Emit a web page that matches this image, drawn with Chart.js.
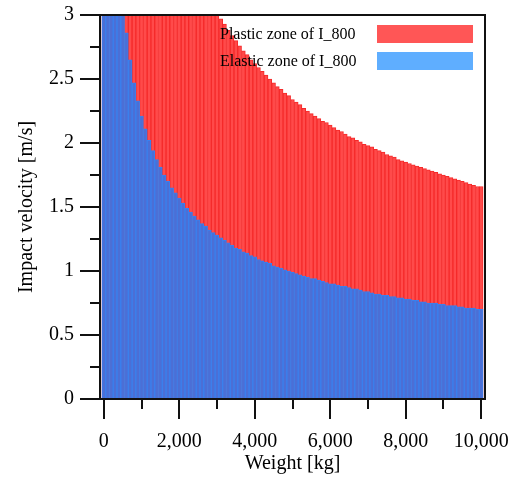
<!DOCTYPE html>
<html>
<head>
<meta charset="utf-8">
<script src="https://cdn.jsdelivr.net/npm/chart.js@4/dist/chart.umd.min.js"></script>
<style>
html, body { margin: 0; padding: 0; background: #fff; }
</style>
</head>
<body>
<canvas id="myChart" width="518" height="477"></canvas>
<script>
// weight of each bar [kg]
var weights = [
    0, 100, 200, 300, 400, 500, 600, 700, 800, 900,
    1000, 1100, 1200, 1300, 1400, 1500, 1600, 1700, 1800, 1900,
    2000, 2100, 2200, 2300, 2400, 2500, 2600, 2700, 2800, 2900,
    3000, 3100, 3200, 3300, 3400, 3500, 3600, 3700, 3800, 3900,
    4000, 4100, 4200, 4300, 4400, 4500, 4600, 4700, 4800, 4900,
    5000, 5100, 5200, 5300, 5400, 5500, 5600, 5700, 5800, 5900,
    6000, 6100, 6200, 6300, 6400, 6500, 6600, 6700, 6800, 6900,
    7000, 7100, 7200, 7300, 7400, 7500, 7600, 7700, 7800, 7900,
    8000, 8100, 8200, 8300, 8400, 8500, 8600, 8700, 8800, 8900,
    9000, 9100, 9200, 9300, 9400, 9500, 9600, 9700, 9800, 9900,
    10000
]

// elastic limit velocity [m/s] (values above 3 are cut off in the picture)
var elastic = [
    3, 3, 3, 3, 3, 3, 2.86, 2.65, 2.47, 2.33,
    2.21, 2.11, 2.02, 1.94, 1.87, 1.81, 1.75, 1.70, 1.65, 1.61,
    1.57, 1.53, 1.49, 1.46, 1.43, 1.40, 1.37, 1.35, 1.32, 1.30,
    1.28, 1.26, 1.24, 1.22, 1.20, 1.18, 1.17, 1.15, 1.14, 1.12,
    1.11, 1.09, 1.08, 1.07, 1.06, 1.04, 1.03, 1.02, 1.01, 1.00,
    0.99, 0.98, 0.97, 0.96, 0.95, 0.94, 0.94, 0.93, 0.92, 0.91,
    0.90, 0.90, 0.89, 0.88, 0.88, 0.87, 0.86, 0.86, 0.85, 0.84,
    0.84, 0.83, 0.82, 0.82, 0.81, 0.81, 0.80, 0.80, 0.79, 0.79,
    0.78, 0.78, 0.77, 0.77, 0.76, 0.76, 0.75, 0.75, 0.75, 0.74,
    0.74, 0.73, 0.73, 0.73, 0.72, 0.72, 0.71, 0.71, 0.71, 0.70,
    0.70
]

// plastic limit velocity [m/s]
var plastic = [
    3, 3, 3, 3, 3, 3, 3, 3, 3, 3,
    3, 3, 3, 3, 3, 3, 3, 3, 3, 3,
    3, 3, 3, 3, 3, 3, 3, 3, 3, 3,
    3, 2.97, 2.93, 2.88, 2.84, 2.80, 2.76, 2.72, 2.69, 2.65,
    2.62, 2.59, 2.56, 2.53, 2.50, 2.47, 2.44, 2.42, 2.39, 2.37,
    2.34, 2.32, 2.30, 2.27, 2.25, 2.23, 2.21, 2.19, 2.17, 2.16,
    2.14, 2.12, 2.10, 2.09, 2.07, 2.05, 2.04, 2.02, 2.01, 1.99,
    1.98, 1.97, 1.95, 1.94, 1.93, 1.91, 1.90, 1.89, 1.87, 1.86,
    1.85, 1.84, 1.83, 1.82, 1.81, 1.80, 1.79, 1.78, 1.77, 1.76,
    1.75, 1.74, 1.73, 1.72, 1.71, 1.70, 1.69, 1.68, 1.67, 1.66,
    1.66
]

var xMajor = [0, 2000, 4000, 6000, 8000, 10000]
var xLabels = ['0', '2,000', '4,000', '6,000', '8,000', '10,000']
var xMinor = [1000, 3000, 5000, 7000, 9000]

var yMajor = [0, 0.5, 1, 1.5, 2, 2.5, 3]
var yLabels = ['0', '0.5', '1', '1.5', '2', '2.5', '3']
var yMinor = [0.25, 0.75, 1.25, 1.75, 2.25, 2.75]

var legendItems = [
    { text: 'Plastic zone of I_800', color: '#ff5656' },
    { text: 'Elastic zone of I_800', color: '#5faeff' }
]

Chart.defaults.font.family = '"Liberation Serif", "Times New Roman", serif'
Chart.defaults.color = '#000'

function toPoints(vals) {
    return weights.map(function (w, i) { return { x: w, y: vals[i] } })
}

function setTicks(major, minor) {
    return function (scale) {
        scale.ticks = major.concat(minor).sort(function (a, b) { return a - b })
            .map(function (v) { return { value: v } })
    }
}

// frame, tick marks (major long, minor short) and the legend
var decor = {
    id: 'decor',
    afterDraw: function (chart) {
        var c = chart.ctx
        var a = chart.chartArea
        var xs = chart.scales.x
        var ys = chart.scales.y
        c.save()
        c.strokeStyle = '#111'
        c.lineWidth = 2
        c.strokeRect(a.left, a.top, a.right - a.left, a.bottom - a.top)

        c.beginPath()
        xs.ticks.forEach(function (t) {
            var px = Math.round(xs.getPixelForValue(t.value))
            var len = xMajor.indexOf(t.value) >= 0 ? 20 : 10
            c.moveTo(px, a.bottom)
            c.lineTo(px, a.bottom + len)
        })
        ys.ticks.forEach(function (t) {
            var py = Math.round(ys.getPixelForValue(t.value))
            var len = yMajor.indexOf(t.value) >= 0 ? 20 : 10
            c.moveTo(a.left, py)
            c.lineTo(a.left - len, py)
        })
        c.stroke()

        c.font = '16px "Liberation Serif"'
        c.textBaseline = 'alphabetic'
        c.textAlign = 'left'
        legendItems.forEach(function (item, i) {
            var y = a.top + 10 + i * 27
            c.fillStyle = item.color
            c.fillRect(a.right - 108, y, 96, 18)
            c.fillStyle = '#000'
            c.fillText(item.text, a.left + 120, y + 14)
        })
        c.restore()
    }
}

var ctx = document.getElementById('myChart')
new Chart(ctx, {
    type: 'bar',
    data: {
        datasets: [{
            label: 'Elastic zone of I_800',
            data: toPoints(elastic),
            backgroundColor: '#4b6fd6',
            borderColor: '#3a80ee',
            borderWidth: 1,
            grouped: false
        }, {
            label: 'Plastic zone of I_800',
            data: toPoints(plastic),
            backgroundColor: '#ff4a4a',
            borderColor: '#f52a2a',
            borderWidth: 1,
            grouped: false
        }]
    },
    options: {
        responsive: false,
        animation: false,
        layout: { padding: { top: 15, right: 33, left: 0, bottom: 0 } },
        plugins: {
            legend: { display: false },
            tooltip: { enabled: false }
        },
        datasets: { bar: { barPercentage: 1, categoryPercentage: 1 } },
        scales: {
            x: {
                type: 'linear',
                min: -100,
                max: 10100,
                offset: false,
                afterBuildTicks: setTicks(xMajor, xMinor),
                afterFit: function (s) {
                    s.height = 78
                    s.paddingLeft = 0
                    s.paddingRight = 0
                },
                grid: { offset: false, drawOnChartArea: false, tickLength: 20, tickColor: 'rgba(0,0,0,0)' },
                border: { display: false },
                ticks: {
                    autoSkip: false,
                    maxRotation: 0,
                    padding: 11,
                    font: { size: 20 },
                    callback: function (v) {
                        var i = xMajor.indexOf(v)
                        return i < 0 ? '' : xLabels[i]
                    }
                },
                title: { display: true, text: 'Weight [kg]', font: { size: 20 }, padding: { top: 0, bottom: 1 } }
            },
            y: {
                min: 0,
                max: 3,
                afterBuildTicks: setTicks(yMajor, yMinor),
                afterFit: function (s) {
                    s.width = 100
                    s.paddingTop = 0
                    s.paddingBottom = 0
                },
                grid: { drawOnChartArea: false, tickLength: 20, tickColor: 'rgba(0,0,0,0)' },
                border: { display: false },
                ticks: {
                    autoSkip: false,
                    padding: 6,
                    font: { size: 20 },
                    callback: function (v) {
                        var i = yMajor.indexOf(v)
                        return i < 0 ? '' : yLabels[i]
                    }
                },
                title: { display: true, text: 'Impact velocity [m/s]', font: { size: 20 }, padding: { top: 15, bottom: 0 } }
            }
        }
    },
    plugins: [decor]
})
</script>
</body>
</html>
